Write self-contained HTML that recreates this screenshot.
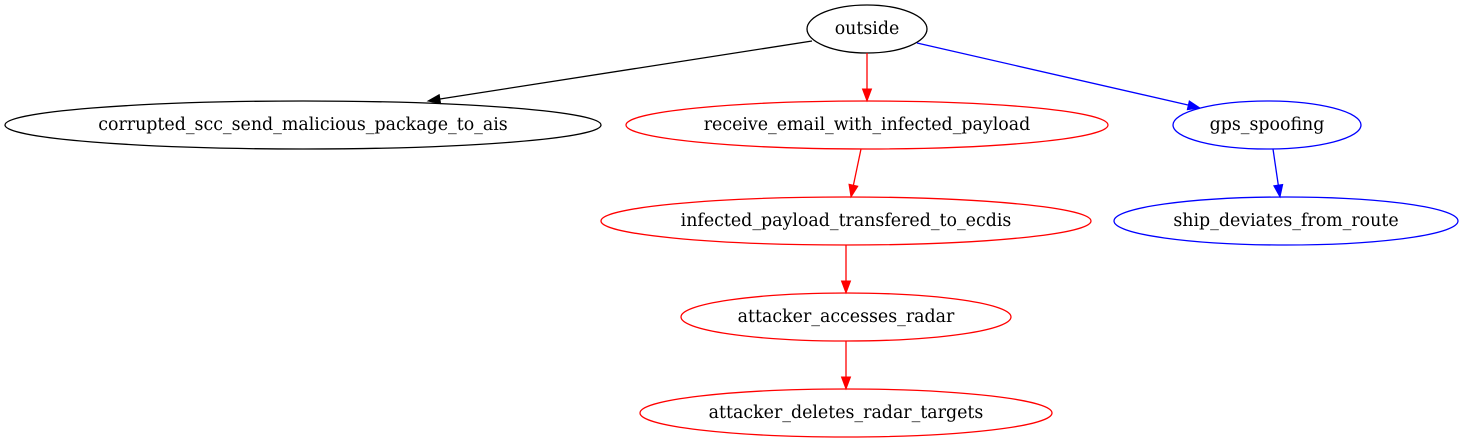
<!DOCTYPE html>
<html><head><meta charset="utf-8"><style>
html,body{margin:0;padding:0;background:#fff;}
svg{display:block;}
text{font-family:"DejaVu Serif","Liberation Serif",serif;font-size:17.4px;text-anchor:middle;dominant-baseline:central;}
</style></head><body>
<svg width="1465" height="443" viewBox="0 0 1465 443" xmlns="http://www.w3.org/2000/svg">
<g fill="none" stroke-width="1.3">
<ellipse cx="867" cy="29" rx="60" ry="24" stroke="#000"/>
<ellipse cx="303" cy="125" rx="298" ry="24" stroke="#000"/>
<ellipse cx="867" cy="125" rx="241" ry="24" stroke="red"/>
<ellipse cx="1267" cy="125" rx="94" ry="24" stroke="blue"/>
<ellipse cx="846" cy="221" rx="245" ry="24" stroke="red"/>
<ellipse cx="1286" cy="221" rx="172" ry="24" stroke="blue"/>
<ellipse cx="846" cy="317" rx="165" ry="24" stroke="red"/>
<ellipse cx="846" cy="413" rx="206" ry="24" stroke="red"/>
<line x1="812" y1="41" x2="440" y2="99" stroke="#000"/>
<line x1="867" y1="53" x2="867" y2="89" stroke="red"/>
<line x1="917" y1="43" x2="1188" y2="105" stroke="blue"/>
<line x1="861" y1="149" x2="853.4" y2="185.3" stroke="red"/>
<line x1="1273" y1="149" x2="1278.3" y2="185.1" stroke="blue"/>
<line x1="846" y1="245" x2="846" y2="281" stroke="red"/>
<line x1="846" y1="341" x2="846" y2="377" stroke="red"/>
</g>
<polygon points="428,101 440.6,103.6 439.2,94.7" fill="#000" stroke="#000"/>
<polygon points="867,101 862.5,89 871.5,89" fill="red" stroke="red"/>
<polygon points="1200,108 1187.3,109.7 1189.3,100.9" fill="blue" stroke="blue"/>
<polygon points="851,197 857.8,186.2 849,184.3" fill="red" stroke="red"/>
<polygon points="1280,197 1273.8,185.8 1282.7,184.5" fill="blue" stroke="blue"/>
<polygon points="846,293 841.5,281 850.5,281" fill="red" stroke="red"/>
<polygon points="846,389 841.5,377 850.5,377" fill="red" stroke="red"/>
<text x="867" y="29">outside</text>
<text x="303" y="125">corrupted_scc_send_malicious_package_to_ais</text>
<text x="867" y="125">receive_email_with_infected_payload</text>
<text x="1267" y="125">gps_spoofing</text>
<text x="846" y="221">infected_payload_transfered_to_ecdis</text>
<text x="1286" y="221">ship_deviates_from_route</text>
<text x="846" y="317">attacker_accesses_radar</text>
<text x="846" y="413">attacker_deletes_radar_targets</text>
</svg>
</body></html>
